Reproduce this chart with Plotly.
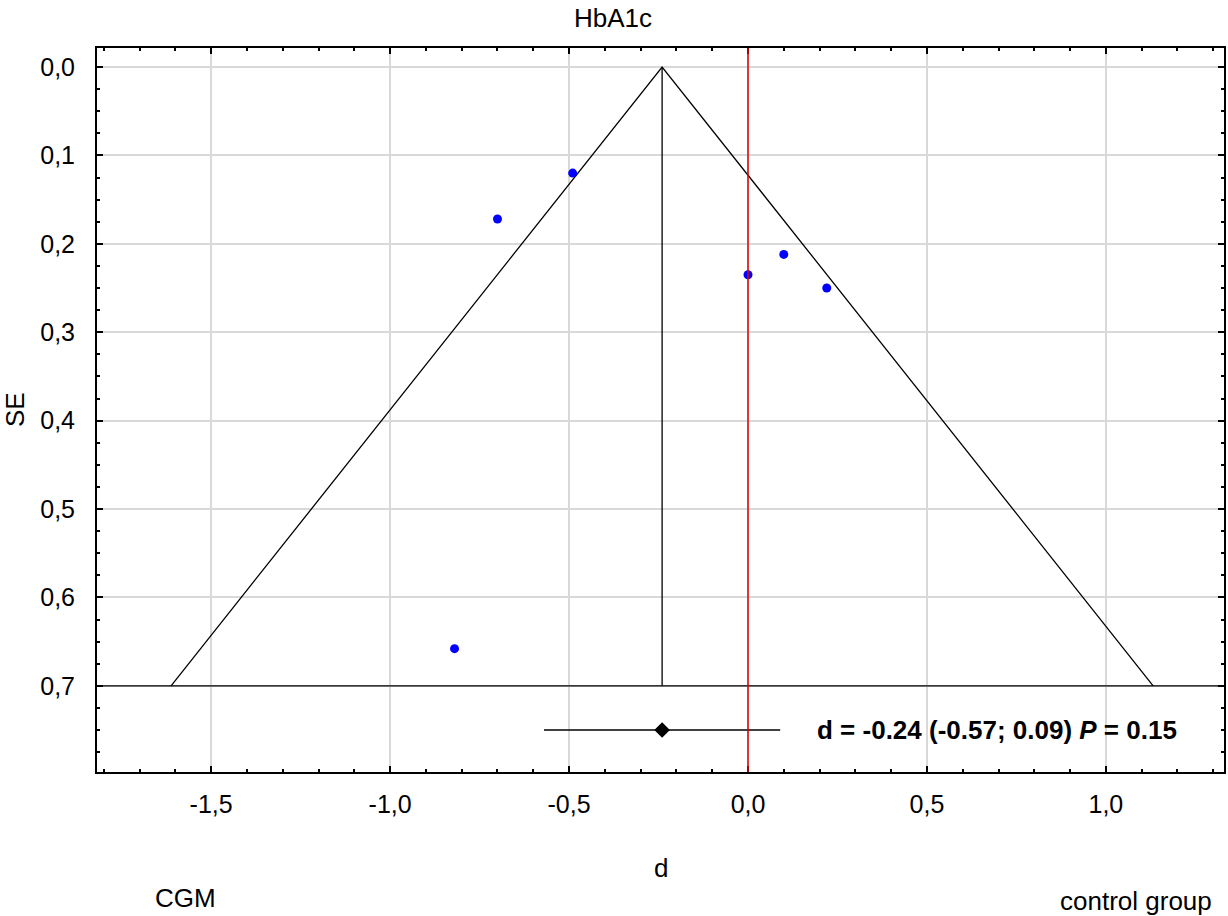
import plotly.graph_objects as go

# Study effect sizes (d) and their standard errors
study_d = [-0.49, -0.70, 0.00, 0.10, 0.22, -0.82]
study_se = [0.120, 0.172, 0.235, 0.212, 0.250, 0.658]

# Pooled estimate with 95% CI
pooled_d = -0.24
pooled_lo = -0.57
pooled_hi = 0.09
pooled_p = 0.15
se_max = 0.70
ci_row = 0.75

x_ticks = [-1.5, -1.0, -0.5, 0.0, 0.5, 1.0]
x_labels = ["-1,5", "-1,0", "-0,5", "0,0", "0,5", "1,0"]
y_ticks = [0.0, 0.1, 0.2, 0.3, 0.4, 0.5, 0.6, 0.7]
y_labels = ["0,0", "0,1", "0,2", "0,3", "0,4", "0,5", "0,6", "0,7"]

x_range = [-1.819, 1.330]
y_range = [0.7975, -0.0215]

font_main = "Liberation Sans, Arial, sans-serif"
fs = 25

fig = go.Figure()

# Funnel (pseudo 95% limits) around pooled estimate
fig.add_trace(go.Scatter(
    x=[pooled_d - 1.96 * se_max, pooled_d, pooled_d + 1.96 * se_max],
    y=[se_max, 0.0, se_max],
    mode="lines", line=dict(color="black", width=1.3),
    hoverinfo="skip", showlegend=False))

# Vertical line at pooled estimate
fig.add_trace(go.Scatter(
    x=[pooled_d, pooled_d], y=[0.0, se_max],
    mode="lines", line=dict(color="black", width=1.3),
    hoverinfo="skip", showlegend=False))

# Horizontal baseline at max SE across full width
fig.add_shape(type="line", xref="paper", yref="y", x0=0, x1=1, y0=se_max, y1=se_max,
              line=dict(color="black", width=1.3))

# Line of no effect
fig.add_shape(type="line", xref="x", yref="paper", x0=0, x1=0, y0=0, y1=1,
              line=dict(color="#e00000", width=1.5))

# Pooled estimate with CI
fig.add_trace(go.Scatter(
    x=[pooled_lo, pooled_hi], y=[ci_row, ci_row],
    mode="lines", line=dict(color="black", width=1.3),
    hoverinfo="skip", showlegend=False))
fig.add_trace(go.Scatter(
    x=[pooled_d], y=[ci_row], mode="markers",
    marker=dict(symbol="diamond", color="black", size=12),
    showlegend=False))

# Individual studies
fig.add_trace(go.Scatter(
    x=study_d, y=study_se, mode="markers",
    marker=dict(color="#0000ff", size=9),
    showlegend=False))

fig.add_annotation(
    x=0.187, y=ci_row, xref="x", yref="y", xanchor="left", yanchor="middle",
    text=f"<b>d = {pooled_d:.2f} ({pooled_lo:.2f}; {pooled_hi:.2f}) <i>P</i> = {pooled_p:.2f}</b>",
    showarrow=False, font=dict(size=26, color="black", family=font_main))

def label(text, x, y, size=26, **kw):
    fig.add_annotation(x=x, y=y, xref="paper", yref="paper", text=text,
                       showarrow=False, xanchor="center", yanchor="middle",
                       font=dict(size=size, color="black", family=font_main), **kw)

label("HbA1c", (614 - 97) / 1129, 1.0, yshift=30)
label("d", 0.5, 0.0, yshift=-96)
label("CGM", (186 - 97) / 1129, 0.0, yshift=-126)
label("control group", (1138 - 97) / 1129, 0.0, yshift=-129)
label("SE", 0.0, 0.5, xshift=-82, textangle=-90)

axis_common = dict(
    showline=True, linecolor="black", linewidth=2, mirror="allticks",
    ticks="inside", ticklen=6, tickwidth=2, tickcolor="black",
    showgrid=True, gridcolor="#d9d9d9", gridwidth=1.5,
    zeroline=False,
    tickfont=dict(size=fs, color="black", family=font_main),
)

fig.update_xaxes(range=x_range, tickvals=x_ticks, ticktext=x_labels,
                 ticklabelstandoff=9,
                 minor=dict(dtick=0.1, tick0=0, ticks="inside", ticklen=3,
                            tickwidth=1.5, tickcolor="black", showgrid=False),
                 **axis_common)
fig.update_yaxes(range=y_range, tickvals=y_ticks, ticktext=y_labels,
                 ticklabelstandoff=15,
                 minor=dict(dtick=0.025, tick0=0, ticks="inside", ticklen=3,
                            tickwidth=1.5, tickcolor="black", showgrid=False),
                 **axis_common)

fig.update_layout(
    width=1228, height=916,
    margin=dict(l=97, r=2, t=48, b=144),
    paper_bgcolor="white", plot_bgcolor="white",
    font=dict(family=font_main, color="black"),
    showlegend=False,
)

fig.write_html("out.html")
